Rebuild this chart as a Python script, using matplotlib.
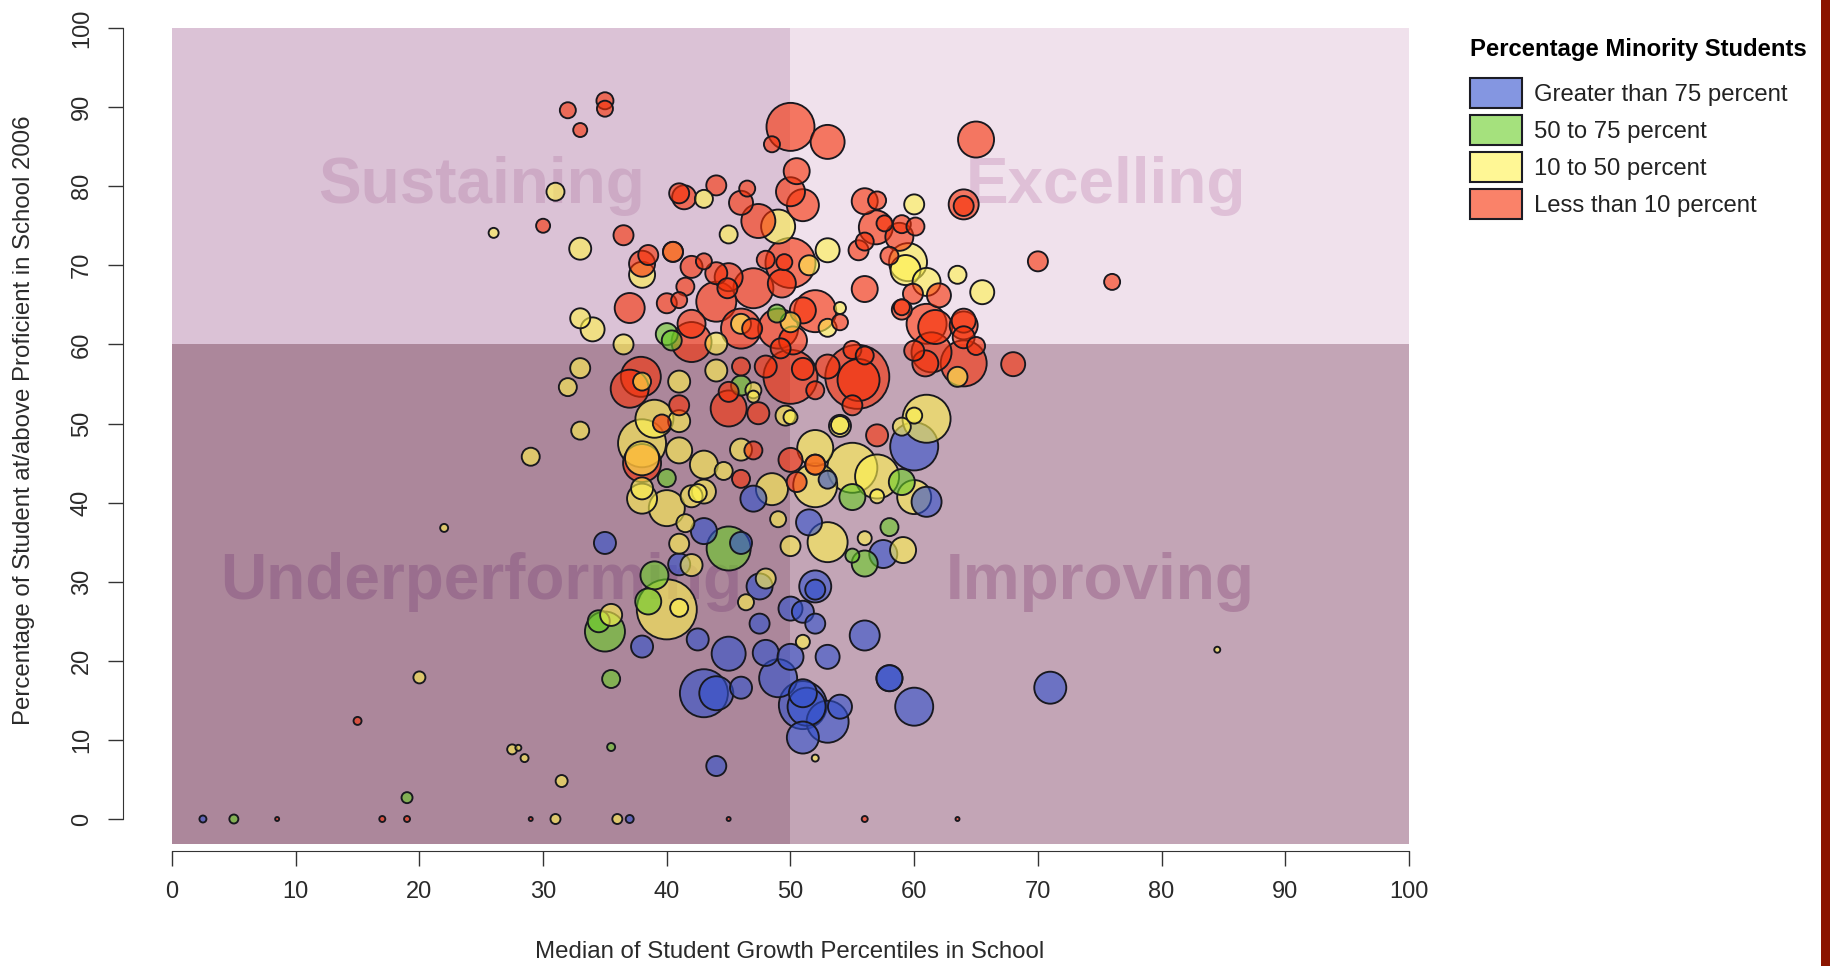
import matplotlib
matplotlib.use('Agg')
import matplotlib.pyplot as plt
import numpy as np
from matplotlib.patches import Rectangle, Patch

plt.rcParams['font.family'] = ['Liberation Sans', 'DejaVu Sans']

blue_x = [35,43,41,47.5,52,52,50,51,52,47.5,42.5,38,56,45,48,50,53,43,44,46,49,51,51.3,51,53,51,54,58,58,60,71,44,37,47,53,60,61,57.5,51.5,46,2.5]
blue_y = [34.9,36.4,32.2,29.4,29.4,29,26.6,26.2,24.7,24.7,22.7,21.8,23.2,20.9,21,20.5,20.5,15.9,15.9,16.6,17.8,14.4,14.2,15.9,12.3,10.3,14.2,17.8,17.8,14.2,16.6,6.7,0,40.5,42.9,47.1,40.1,33.5,37.5,34.9,0]
blue_r = [11,13,11,13,16,10,12,11,10,10,11,11,15,17,13,13,12,24,17,11,19,24,19,14,21,16,12,13,13,19,16,10,4,13,9,24,15,14,13,11,3.5]

green_x = [40,40.4,46,40,55,59,58,56,55,45,39,38.5,34.5,35,35.5,35.5,19,5,48.9]
green_y = [61.3,60.5,54.8,43.1,40.7,42.6,36.9,32.3,33.3,34.2,30.8,27.5,25,23.7,17.7,9.1,2.7,0,63.9]
green_r = [11,10,10,9,13,13,9,13,7,22,14,13,11,20,9,4,5.5,4.5,9]

yellow_x = [31,26,33,38,40.5,43,45,49,51.5,53,33,34,36.5,44,46,50,54,53,33,32,41,44,47,47,49.6,50,54,39,41,33,29,38,41,43,44.6,46,38,38,40,42,42.5,43,48.5,49,52,52,55,57,57,54,61,60,59,60,56,59.1,53,50,22,41.5,41,42,48,46.4,40,41,35.5,51,20,27.5,28,28.5,31.5,52,36,31,84.5,60,59.5,59.3,61,63.5,65.5,63.5,38,38,52]
yellow_y = [79.3,74.1,72.1,68.8,71.7,78.4,73.9,74.9,70,71.9,63.3,61.9,60,60.1,62.6,62.8,64.6,62.1,57,54.6,55.3,56.7,53.4,54.2,51,50.8,49.8,50.6,50.3,49.1,45.8,47.5,46.6,44.8,44,46.7,41.8,40.5,39.3,40.8,41.2,41.4,41.7,37.9,42.2,46.9,44.4,43.3,40.8,49.7,50.6,51,49.6,40.7,35.5,34,35,34.5,36.8,37.4,34.8,32.1,30.4,27.4,26.5,26.7,25.8,22.4,17.9,8.8,9,7.7,4.8,7.7,0,0,21.4,77.7,70.4,69.4,67.9,68.8,66.6,55.9,55.3,45.6,44.8]
yellow_r = [9,5,11,13,10,9,9,17,10,12,10,12,10,11,10,10,6,9,10,9,11,11,6,8,10,7,9,19,11,9,9,24,13,14,9,11,11,15,18,11,9,12,16,8,22,18,25,22,7,11,24,8,9,17,7,13,20,10,4,9,10,11,10,8,30,9,11,7,6,5,3,4,6,3.5,5,5,3,10,19,15,14,9,12,10,9,17,10]

red_x = [32,35,35,33,50,53,48.5,50.5,50,51,44,41,41.4,46.5,46,47.4,30,36.5,38.5,38,40.5,42,43,44,45,47,48,50,49.5,49.3,41.5,44,44.9,40,41,37,42,42,46,46.9,49,50.2,49.2,52,51,54,65,64,64,70,76,56,57,56.9,57.6,59,60.1,58.8,56,55.5,58,56,59.9,62,59,59,61,61.7,64,64,64,65,60,61.4,60.9,64,68,55,56,55.4,55.5,55,53,52,50,51,48,46,45,45,47.4,37,37.9,41,39.6,57,38,47,46,50,52,50.5,8.5,17,19,29,45,56,63.5,15]
red_y = [89.6,90.8,89.8,87.1,87.5,85.6,85.3,81.9,79.3,77.6,80.1,79.1,78.6,79.7,77.9,75.6,75,73.8,71.3,70.2,71.7,69.8,70.5,69,68.5,67.1,70.7,70.3,70.4,67.7,67.3,65.4,67.1,65.2,65.6,64.6,60.3,62.6,62,62,62,60.5,59.5,64.2,64.3,62.8,85.9,77.7,77.5,70.5,67.9,78.1,78.2,74.8,75.3,75.2,74.9,73.6,73,71.9,71.2,67,66.4,66.2,64.4,64.7,62.6,62.2,62.4,63,60.9,59.8,59.2,59,57.6,57.6,57.5,59.3,58.6,55.9,55.5,52.3,57.2,54.2,55.9,56.9,57.2,57.2,54,51.9,51.3,54.4,55.9,52.3,50,48.5,45,46.6,43,45.4,44.8,42.6,0,0,0,0,0,0,0,12.4]
red_r = [8,8.5,8,7,24,17,8,13,14.5,16,10,10,12,8,12,17,7,10,10,13,10,11,8,11,14,20,9,25,8,14,9,20,10,10,8,15,20,14,20,10,20,14,10,21,13,8,18,15,10,10,8,13,9,17,8,9,9,14,9,10,9,13,10,12,10,8,20,17,14,12,11,9,10,20,13,23,12,9,9,32,21,10,12,9,27,11,11,9,10,18,11,19,20,10,9,11,19,9,9,12,10,10,2,3,3,2,2,3,2,4]

labels = ['Greater than 75 percent', '50 to 75 percent', '10 to 50 percent', 'Less than 10 percent']
colors = ['#3250cd', '#69cd26', '#fff34e', '#f72f05']
ticks = [0,10,20,30,40,50,60,70,80,90,100]

fig = plt.figure(figsize=(18.31,9.66), dpi=100)
ax = fig.add_axes([172/1831, (966-844)/966, (1409-172)/1831, (844-28)/966])
ax.set_xlim(0,100)
ax.set_ylim(-3.16,100)

ax.add_patch(Rectangle((0,60),50,40,color='#dbc2d6',lw=0,zorder=1))
ax.add_patch(Rectangle((50,60),50,40,color='#f0e1ec',lw=0,zorder=1))
ax.add_patch(Rectangle((0,-3.16),50,63.16,color='#ac879b',lw=0,zorder=1))
ax.add_patch(Rectangle((50,-3.16),50,63.16,color='#c3a5b6',lw=0,zorder=1))

ax.text(25,80,'Sustaining',fontsize=46,fontweight='bold',color='#cdaac5',ha='center',va='center',zorder=2)
ax.text(75.5,80,'Excelling',fontsize=46,fontweight='bold',color='#dfc0d7',ha='center',va='center',zorder=2)
ax.text(25,30,'Underperforming',fontsize=46,fontweight='bold',color='#9a6e8e',ha='center',va='center',zorder=2)
ax.text(75,30,'Improving',fontsize=46,fontweight='bold',color='#ad829f',ha='center',va='center',zorder=2)

# largest bubbles go down first so the small ones stay on top
all_x = np.array(blue_x+green_x+yellow_x+red_x)
all_y = np.array(blue_y+green_y+yellow_y+red_y)
all_r = np.array(blue_r+green_r+yellow_r+red_r)
all_c = []
for n,c in zip([len(blue_x),len(green_x),len(yellow_x),len(red_x)],colors):
    all_c += [matplotlib.colors.to_rgba(c,0.6)]*n
all_c = np.array(all_c)
order = np.argsort(-all_r,kind='stable')
ax.scatter(all_x[order],all_y[order],s=(2*all_r[order]*0.72)**2,facecolor=all_c[order],edgecolor='#18181f',linewidth=1.35,zorder=3)

for s in ['top','right']:
    ax.spines[s].set_visible(False)
ax.spines['left'].set_position(('outward',35))
ax.spines['bottom'].set_position(('outward',5))
ax.spines['left'].set_bounds(0,100)
ax.spines['bottom'].set_bounds(0,100)
ax.spines['left'].set_color('#333333')
ax.spines['bottom'].set_color('#333333')
ax.set_xticks(ticks)
ax.set_yticks(ticks)
ax.tick_params(axis='both',length=11,width=1,color='#333333',labelcolor='#2a2a2a',labelsize=17,pad=11)
ax.tick_params(axis='y',pad=11)
plt.setp(ax.get_yticklabels(),rotation=90,va='center')
ax.patch.set_visible(False)

fig.text(790/1831,1-952/966,'Median of Student Growth Percentiles in School',fontsize=17.3,color='#2a2a2a',ha='center',va='center')
fig.text(24/1831,1-420/966,'Percentage of Student at/above Proficient in School 2006',fontsize=17.3,color='#2a2a2a',rotation=90,ha='center',va='center')

handles = [Patch(facecolor=matplotlib.colors.to_rgba(c,0.6),edgecolor='#1c1c24',linewidth=1.5) for c in colors]
leg = ax.legend(handles,labels,title='Percentage Minority Students',title_fontproperties={'weight':'bold','size':17.2},
                fontsize=17.2,frameon=False,loc='upper left',bbox_to_anchor=(1470/1831,1-38/966),bbox_transform=fig.transFigure,
                handlelength=2.18,handleheight=1.59,labelspacing=0.27,handletextpad=0.49,alignment='left',borderpad=0,borderaxespad=0,labelcolor='#222222')
leg._legend_box.sep = 12

# dark red strip on the right edge
fig.add_artist(Rectangle((1821/1831,0),10/1831,1,transform=fig.transFigure,color='#8b1500',lw=0))

plt.savefig('out.png',dpi=100)
